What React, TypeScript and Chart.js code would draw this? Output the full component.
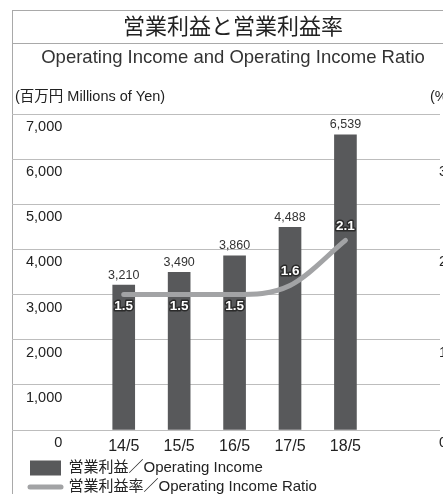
import React, { useEffect, useRef } from 'react';
import { Chart, registerables } from 'chart.js';

Chart.register(...registerables);

// ---- data ----
const categories = ['14/5', '15/5', '16/5', '17/5', '18/5'];
const operatingIncome = [3210, 3490, 3860, 4488, 6539];
const operatingIncomeRatio = [1.5, 1.5, 1.5, 1.6, 2.1];
const leftAxisMax = 7000;
const leftAxisStep = 1000;
const rightAxisMax = 3.5;
const rightAxisStep = 0.5;

const titleText = '営業利益と営業利益率';
const subtitleText = 'Operating Income and Operating Income Ratio';
const leftUnitText = '(百万円 Millions of Yen)';
const rightUnitText = '(%)';
const seriesNames = ['営業利益／Operating Income', '営業利益率／Operating Income Ratio'];

// ---- styles ----
const W = 470;
const H = 510;
const BAR_COLOR = '#58595b';
const LINE_COLOR = '#a2a3a5';
const GRID_COLOR = '#bdbdbd';
const FRAME_COLOR = '#a9a9a9';
const TEXT_COLOR = '#222222';
const SANS = '"Liberation Sans", Arial, "Noto Sans CJK JP", sans-serif';
const CJK = '"Noto Sans CJK JP", "Noto Sans", sans-serif';

const framePlugin = {
  id: 'frame',
  beforeDraw(chart: any) {
    const { ctx } = chart;
    ctx.save();
    ctx.fillStyle = '#ffffff';
    ctx.fillRect(0, 0, chart.width, chart.height);
    ctx.strokeStyle = FRAME_COLOR;
    ctx.lineWidth = 1;
    ctx.beginPath();
    ctx.moveTo(12.5, 10);
    ctx.lineTo(12.5, chart.height);
    ctx.moveTo(12, 10.5);
    ctx.lineTo(chart.width, 10.5);
    ctx.moveTo(12, 43.5);
    ctx.lineTo(chart.width, 43.5);
    ctx.stroke();
    ctx.fillStyle = TEXT_COLOR;
    ctx.font = `14.5px ${SANS}`;
    ctx.textBaseline = 'middle';
    ctx.textAlign = 'left';
    ctx.fillText(leftUnitText, 15, 97);
    ctx.fillText(rightUnitText, 430, 97);
    ctx.restore();
  },
};

const labelPlugin = {
  id: 'valueLabels',
  afterDatasetsDraw(chart: any) {
    const { ctx } = chart;
    const barMeta = chart.getDatasetMeta(0);
    const lineMeta = chart.getDatasetMeta(1);
    ctx.save();
    ctx.textAlign = 'center';
    ctx.textBaseline = 'middle';
    ctx.font = `12.5px ${SANS}`;
    ctx.fillStyle = '#333333';
    barMeta.data.forEach((el: any, i: number) => {
      ctx.fillText(operatingIncome[i].toLocaleString('en-US'), el.x, el.y - 10);
    });
    ctx.font = `bold 13.5px ${SANS}`;
    ctx.lineWidth = 3;
    ctx.lineJoin = 'round';
    ctx.strokeStyle = '#2b2b2b';
    ctx.fillStyle = '#ffffff';
    lineMeta.data.forEach((pt: any, i: number) => {
      const v = operatingIncomeRatio[i];
      const flat = operatingIncomeRatio[i - 1] === v || operatingIncomeRatio[i + 1] === v;
      const y = flat ? pt.y + 12 : pt.y - 14;
      const t = v.toFixed(1);
      ctx.strokeText(t, pt.x, y);
      ctx.fillText(t, pt.x, y);
    });
    ctx.restore();
  },
};

export default function App() {
  const ref = useRef<HTMLCanvasElement>(null);

  useEffect(() => {
    if (!ref.current) return;
    const xMin = -1.763;
    const xMax = 5.706;
    const chart = new Chart(ref.current, {
      type: 'bar',
      data: {
        datasets: [
          {
            type: 'bar',
            label: seriesNames[0],
            data: operatingIncome.map((v, i) => ({ x: i, y: v })),
            backgroundColor: BAR_COLOR,
            borderWidth: 0,
            barThickness: 22,
            yAxisID: 'y',
            order: 1,
          },
          {
            type: 'line',
            label: seriesNames[1],
            data: operatingIncomeRatio.map((v, i) => ({ x: i, y: v })),
            borderColor: LINE_COLOR,
            backgroundColor: LINE_COLOR,
            borderWidth: 5,
            borderCapStyle: 'round',
            borderJoinStyle: 'round',
            cubicInterpolationMode: 'monotone',
            pointRadius: 0,
            yAxisID: 'y1',
            order: 0,
          },
        ] as any,
      },
      options: {
        responsive: false,
        animation: false,
        events: [],
        layout: { padding: { left: 12, right: W - 454, top: 0, bottom: 5.5 } },
        scales: {
          x: {
            type: 'linear',
            min: xMin,
            max: xMax,
            offset: false,
            grid: { display: false, drawTicks: false },
            border: { display: false },
            afterFit: (scale: any) => {
              scale.height = 26.5;
            },
            ticks: {
              stepSize: 1,
              autoSkip: false,
              includeBounds: false,
              maxRotation: 0,
              padding: 6.9,
              color: TEXT_COLOR,
              font: { family: SANS, size: 16, lineHeight: 1.2 },
              callback: (v: any) => {
                const n = Math.round(Number(v));
                return Math.abs(n - Number(v)) < 1e-6 && categories[n] !== undefined ? categories[n] : '';
              },
            },
          },
          y: {
            position: 'left',
            min: 0,
            max: leftAxisMax,
            grid: { color: GRID_COLOR, lineWidth: 1, drawTicks: true, tickLength: 14 },
            border: { display: false },
            ticks: {
              stepSize: leftAxisStep,
              mirror: true,
              crossAlign: 'far',
              padding: 0,
              labelOffset: 13,
              color: TEXT_COLOR,
              font: { family: SANS, size: 14.5 },
              callback: (v: any) => Number(v).toLocaleString('en-US'),
            },
          },
          y1: {
            position: 'right',
            min: 0,
            max: rightAxisMax,
            grid: { display: false, drawTicks: false },
            border: { display: false },
            ticks: {
              stepSize: rightAxisStep,
              mirror: true,
              padding: 7,
              labelOffset: 13,
              color: TEXT_COLOR,
              font: { family: SANS, size: 14.5 },
              callback: (v: any) => (Number.isInteger(Number(v)) ? String(v) : ''),
            },
          },
        },
        plugins: {
          title: {
            display: true,
            text: titleText,
            color: TEXT_COLOR,
            font: { family: CJK, size: 22, weight: 'normal' },
            padding: { top: 12, bottom: 7 },
          },
          subtitle: {
            display: true,
            text: subtitleText,
            color: '#333333',
            font: { family: SANS, size: 18.5, weight: 'normal' },
            padding: { top: 1, bottom: 45.4 },
          },
          legend: {
            display: true,
            position: 'bottom',
            align: 'start',
            fullSize: false,
            labels: {
              usePointStyle: true,
              pointStyleWidth: 31,
              boxHeight: 15,
              padding: 4,
              color: TEXT_COLOR,
              font: { family: SANS, size: 15 },
              sort: (a: any, b: any) => a.datasetIndex - b.datasetIndex,
              generateLabels: (c: any) => {
                const items = Chart.defaults.plugins.legend.labels.generateLabels(c);
                return items.map((it: any) => {
                  if (it.datasetIndex === 0) {
                    return { ...it, pointStyle: 'rect', fillStyle: BAR_COLOR, strokeStyle: BAR_COLOR, lineWidth: 0 };
                  }
                  return {
                    ...it,
                    pointStyle: 'line',
                    fillStyle: LINE_COLOR,
                    strokeStyle: LINE_COLOR,
                    lineWidth: 5,
                    lineCap: 'round',
                  };
                });
              },
            },
          },
          tooltip: { enabled: false },
        },
      } as any,
      plugins: [framePlugin, labelPlugin],
    });
    return () => chart.destroy();
  }, []);

  return (
    <div
      style={{
        position: 'fixed',
        left: 0,
        top: 0,
        width: 443,
        height: 494,
        overflow: 'hidden',
        background: '#ffffff',
      }}
    >
      <canvas ref={ref} width={W} height={H} style={{ display: 'block' }} />
    </div>
  );
}
